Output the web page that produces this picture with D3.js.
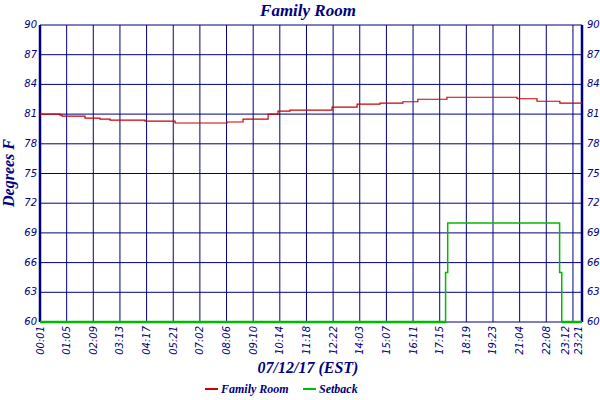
<!DOCTYPE html>
<html><head><meta charset="utf-8">
<script src="https://cdn.jsdelivr.net/npm/d3@7"></script>
<style>body{margin:0;background:#fff}</style></head>
<body><svg id="c" width="600" height="400"></svg>
<script>
const tickLabels = ["00:01","01:05","02:09","03:13","04:17","05:21","07:02","08:06","09:10","10:14","11:18","12:22","14:03","15:07","16:11","17:15","18:19","19:23","21:04","22:08","23:12","23:21"];
const tickIdx = [0,1,2,3,4,5,6,7,8,9,10,11,12,13,14,15,16,17,18,19,20,20.34];
const yTicks = [60,63,66,69,72,75,78,81,84,87,90];
const tempIdx = [0,0.75,0.83,1.69,2.25,2.63,3.94,5.07,7.02,7.62,8.56,8.93,9.38,10.96,11.9,12.76,13.62,14.18,15.27,17.9,18.65,19.51,20.34];
const tempVal = [81.0,80.9,80.8,80.6,80.5,80.4,80.3,80.1,80.2,80.5,81.0,81.3,81.4,81.7,82.0,82.1,82.25,82.5,82.7,82.55,82.3,82.1,82.1];
const setIdx = [0,15.22,15.3,19.5,19.58,20.34];
const setVal = [60,65,70,65,60,60];

const navy="#000080";
const svg=d3.select("#c");
const L=40,R=582,T=25,B=322;
const x=d3.scaleLinear().domain([0,20.34]).range([L,R]);
const y=d3.scaleLinear().domain([60,90]).range([B,T]);
const g=svg.append("g");
g.selectAll(".vg").data(tickIdx.slice(0,21)).join("line")
 .attr("x1",d=>x(d)).attr("x2",d=>x(d)).attr("y1",T).attr("y2",B).attr("stroke",navy).attr("stroke-width",1);
g.selectAll(".hg").data(yTicks).join("line")
 .attr("x1",L).attr("x2",R).attr("y1",d=>y(d)).attr("y2",d=>y(d)).attr("stroke",navy).attr("stroke-width",1);
g.append("line").attr("x1",L).attr("x2",L).attr("y1",T).attr("y2",B).attr("stroke",navy).attr("stroke-width",2.5);
g.append("line").attr("x1",R).attr("x2",R).attr("y1",T).attr("y2",B).attr("stroke",navy).attr("stroke-width",2.5);

const fs="italic 10px 'DejaVu Sans'";
const lf=d3.format("d");
svg.append("g").selectAll("text").data(yTicks).join("text")
 .attr("x",L-3).attr("y",d=>y(d)+3).attr("text-anchor","end").attr("fill",navy)
 .style("font",fs).text(lf);
svg.append("g").selectAll("text").data(yTicks).join("text")
 .attr("x",R+5).attr("y",d=>y(d)+3).attr("text-anchor","start").attr("fill",navy)
 .style("font",fs).text(lf);
svg.append("g").selectAll("text").data(tickIdx).join("text")
 .attr("transform",(d,i)=>`translate(${x(d)+(i==20?-4:i==21?0:3.5)},${B+4}) rotate(-90)`)
 .attr("text-anchor","end").attr("fill",navy).style("font",fs).text((d,i)=>tickLabels[i]);

const line=d3.line().curve(d3.curveStepAfter);
const tempPts=tempIdx.map((d,i)=>[x(d),y(tempVal[i])]);
const setPts=setIdx.map((d,i)=>[x(d),y(setVal[i])]);
setPts.unshift([x(0),y(60)]);
svg.append("path").attr("d",line([[x(0),y(60)],...setPts.slice(1)])).attr("fill","none").attr("stroke","#00bb00").attr("stroke-width",1.5);
svg.append("path").attr("d",line(tempPts)).attr("fill","none").attr("stroke","#cc0000").attr("stroke-width",1.2);
svg.append("line").attr("x1",L).attr("x2",x(15.22)).attr("y1",B).attr("y2",B).attr("stroke","#00bb00").attr("stroke-width",2.5);
svg.append("line").attr("x1",x(19.58)).attr("x2",R).attr("y1",B).attr("y2",B).attr("stroke","#00bb00").attr("stroke-width",2.5);

const tf="italic bold 16px 'Liberation Serif'";
svg.append("text").attr("x",308).attr("y",16).attr("text-anchor","middle").attr("fill",navy).style("font","italic bold 17px 'Liberation Serif'").text("Family Room");
svg.append("text").attr("x",308).attr("y",373).attr("text-anchor","middle").attr("fill",navy).style("font",tf).text("07/12/17 (EST)");
svg.append("text").attr("transform","translate(14,173) rotate(-90)").attr("text-anchor","middle").attr("fill",navy).style("font",tf).text("Degrees F");
const lg=[{n:"Family Room",c:"#cc0000",x:205},{n:"Setback",c:"#00bb00",x:303}];
const lgg=svg.append("g").selectAll("g").data(lg).join("g").attr("transform",d=>`translate(${d.x},389)`);
lgg.append("line").attr("x1",0).attr("x2",13).attr("stroke",d=>d.c).attr("stroke-width",2);
lgg.append("text").attr("x",16).attr("y",4).attr("fill",navy).style("font","italic bold 12px 'Liberation Serif'").text(d=>d.n);
</script></body></html>
